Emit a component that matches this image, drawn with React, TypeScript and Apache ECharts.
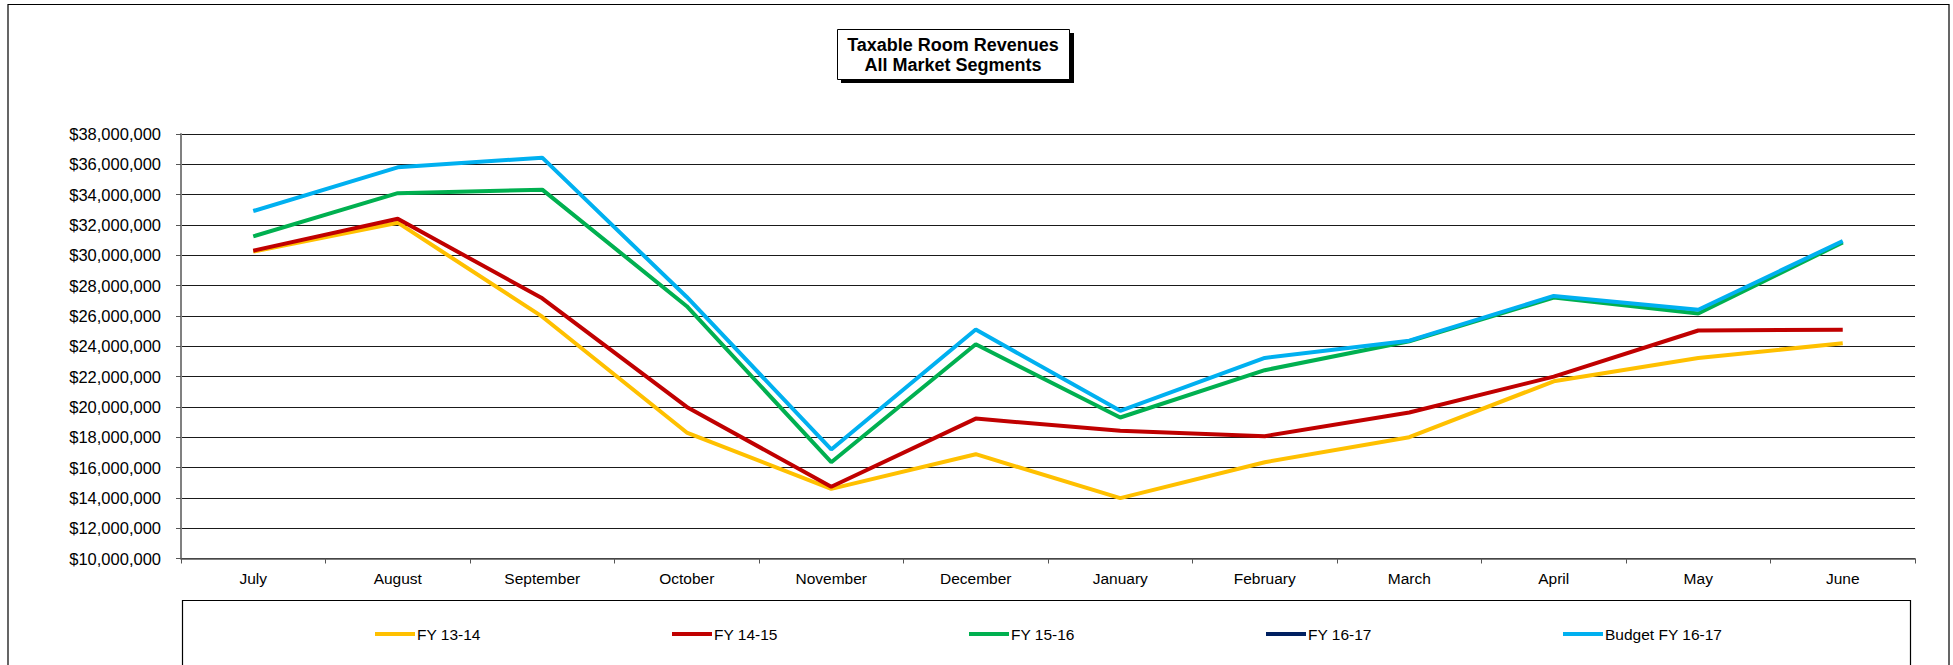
import React, { useEffect, useRef } from "react";
import * as echarts from "echarts";

const months = ["July", "August", "September", "October", "November", "December", "January", "February", "March", "April", "May", "June"];
const seriesNames = ["FY 13-14", "FY 14-15", "FY 15-16", "FY 16-17", "Budget FY 16-17"];
const seriesColors = ["#FFC000", "#C00000", "#00B050", "#002060", "#00B0F0"];

const fy1314 = [30250000, 32150000, 25950000, 18310000, 14590000, 16880000, 13980000, 16350000, 18000000, 21690000, 23220000, 24200000];
const fy1415 = [30300000, 32410000, 27160000, 20000000, 14730000, 19230000, 18420000, 18070000, 19630000, 22000000, 25040000, 25090000];
const fy1516 = [31250000, 34100000, 34330000, 26640000, 16350000, 24130000, 19300000, 22420000, 24330000, 27210000, 26160000, 30850000];
const fy1617: (number | null)[] = [null, null, null, null, null, null, null, null, null, null, null, null];
const budget1617 = [32920000, 35800000, 36440000, 27250000, 17190000, 25100000, 19740000, 23230000, 24370000, 27320000, 26410000, 30940000];

const yMin = 10000000;
const yMax = 38000000;
const yStep = 2000000;

const FONT = "'Liberation Sans', Arial, Helvetica, sans-serif";

export default function App() {
  const ref = useRef<HTMLDivElement>(null);
  useEffect(() => {
    if (!ref.current) return;
    const chart = echarts.init(ref.current, undefined, { renderer: "svg" });
    const allData = [fy1314, fy1415, fy1516, fy1617, budget1617];
    const legendLefts = [375, 672, 969, 1266, 1563];
    chart.setOption({
      animation: false,
      backgroundColor: "#ffffff",
      textStyle: { fontFamily: FONT },
      grid: { left: 181, right: 38, top: 134, bottom: 106.5, containLabel: false },
      xAxis: {
        type: "category",
        data: months,
        boundaryGap: true,
        axisLine: { lineStyle: { color: "#555", width: 1.5 } },
        axisTick: { show: true, length: 5, alignWithLabel: false, lineStyle: { color: "#555" } },
        axisLabel: { color: "#000", fontSize: 15.5, fontFamily: FONT, margin: 12, interval: 0 },
        splitLine: { show: false },
      },
      yAxis: {
        type: "value",
        min: yMin,
        max: yMax,
        interval: yStep,
        axisLine: { show: true, lineStyle: { color: "#808080", width: 2 } },
        axisTick: { show: true, length: 5, lineStyle: { color: "#555" } },
        axisLabel: {
          color: "#000",
          fontSize: 16.5,
          fontFamily: FONT,
          margin: 20,
          formatter: (v: number) => "$" + v.toLocaleString("en-US"),
        },
        splitLine: { show: true, lineStyle: { color: "#1a1a1a", width: 1 } },
      },
      legend: seriesNames.map((n, i) => ({
        data: [n],
        left: legendLefts[i],
        top: 626,
        padding: 0,
        icon: "rect",
        itemWidth: 40,
        itemHeight: 4,
        itemGap: 0,
        textStyle: { color: "#000", fontSize: 15.5, fontFamily: FONT, padding: [0, 0, 0, -3] },
        selectedMode: false,
      })),
      graphic: [
        {
          type: "rect",
          shape: { x: 8, y: 4.5, width: 1941, height: 720 },
          style: { fill: "none", stroke: "#000", lineWidth: 1.2 },
          silent: true,
          z: 0,
        },
        {
          type: "rect",
          shape: { x: 182.5, y: 600.5, width: 1728, height: 120 },
          style: { fill: "none", stroke: "#000", lineWidth: 1.2 },
          silent: true,
          z: 0,
        },
        {
          type: "rect",
          shape: { x: 841, y: 33, width: 233, height: 50 },
          style: { fill: "#000" },
          silent: true,
          z: 10,
        },
        {
          type: "rect",
          shape: { x: 837.5, y: 29.5, width: 232, height: 50 },
          style: { fill: "#fff", stroke: "#000", lineWidth: 1 },
          silent: true,
          z: 11,
        },
        {
          type: "text",
          x: 953,
          y: 55,
          z: 12,
          silent: true,
          style: {
            text: "Taxable Room Revenues\nAll Market Segments",
            fill: "#000",
            font: "bold 18px " + FONT,
            align: "center",
            verticalAlign: "middle",
            lineHeight: 20,
          },
        },
      ],
      series: seriesNames.map((n, i) => ({
        name: n,
        type: "line",
        data: allData[i],
        symbol: "none",
        showSymbol: false,
        color: seriesColors[i],
        lineStyle: { color: seriesColors[i], width: 4 },
        itemStyle: { color: seriesColors[i] },
        connectNulls: false,
        z: 3 + i,
      })),
    });
    return () => chart.dispose();
  }, []);
  return (
    <div
      ref={ref}
      style={{ position: "fixed", left: 0, top: 0, width: "1953px", height: "665px", background: "#fff" }}
    />
  );
}
